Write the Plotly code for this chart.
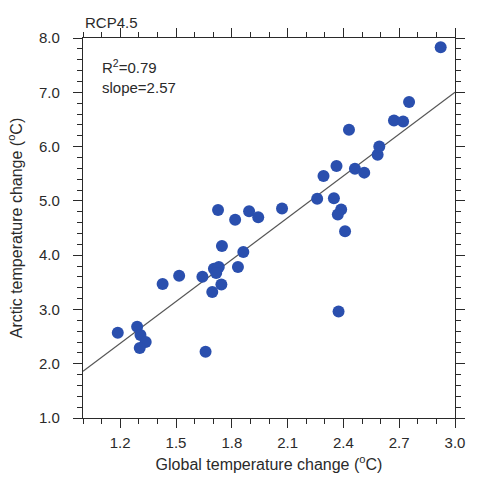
import plotly.graph_objects as go
import numpy as np

# Data (global vs arctic warming, RCP4.5 models)
global_change = [1.187, 1.291, 1.309, 1.337, 1.305, 1.428, 1.517, 1.642, 1.659, 1.695,
                 1.704, 1.730, 1.716, 1.744, 1.747, 1.726, 1.818, 1.833, 1.862, 1.893,
                 1.942, 2.070, 2.259, 2.293, 2.349, 2.363, 2.388, 2.370, 2.409, 2.374,
                 2.430, 2.462, 2.512, 2.584, 2.593, 2.672, 2.721, 2.753, 2.923]
arctic_change = [2.57, 2.68, 2.53, 2.40, 2.29, 3.47, 3.62, 3.60, 2.22, 3.32,
                 3.75, 3.78, 3.67, 3.46, 4.17, 4.83, 4.65, 3.78, 4.06, 4.81,
                 4.70, 4.86, 5.04, 5.46, 5.05, 5.64, 4.84, 4.75, 4.44, 2.96,
                 6.31, 5.59, 5.52, 5.85, 6.00, 6.48, 6.46, 6.82, 7.83]

fit_slope = 2.57
fit_intercept = -0.71
r_squared = 0.79
scenario = "RCP4.5"

x_ticks = [1.2, 1.5, 1.8, 2.1, 2.4, 2.7, 3.0]
y_ticks = [1.0, 2.0, 3.0, 4.0, 5.0, 6.0, 7.0, 8.0]

FONT = "Liberation Sans, Arial, Helvetica, sans-serif"
INK = "#2a2a2a"

line_x = np.array([1.0, 3.0])
line_y = fit_slope * line_x + fit_intercept

fig = go.Figure()
fig.add_trace(go.Scatter(x=line_x, y=line_y, mode="lines",
                         line=dict(color="#555555", width=1.2),
                         hoverinfo="skip", showlegend=False))
fig.add_trace(go.Scatter(x=global_change, y=arctic_change, mode="markers",
                         marker=dict(color="#2a4fae", size=12, line=dict(width=0)),
                         showlegend=False))

axis_common = dict(
    showline=True, linecolor=INK, linewidth=1.2, mirror="allticks",
    ticks="outside", ticklen=9, tickwidth=1, tickcolor=INK,
    showgrid=False, zeroline=False,
    tickfont=dict(family=FONT, size=15, color=INK),
)

fig.update_layout(
    width=477, height=484,
    margin=dict(l=83, r=14, t=38, b=66),
    paper_bgcolor="white", plot_bgcolor="white",
    font=dict(family=FONT, color=INK),
    xaxis=dict(range=[1.0, 3.0], tickvals=x_ticks, tickformat=".1f",
               minor=dict(dtick=0.1, tick0=1.0, ticks="outside", ticklen=5,
                          tickcolor=INK, showgrid=False),
               title=dict(text="Global temperature change (<sup>o</sup>C)",
                          font=dict(family=FONT, size=16), standoff=8),
               ticklabelstandoff=2,
               **axis_common),
    yaxis=dict(range=[1.0, 8.0], tickvals=y_ticks, tickformat=".1f",
               minor=dict(dtick=0.2, tick0=1.0, ticks="outside", ticklen=5,
                          tickcolor=INK, showgrid=False),
               title=dict(text="Arctic temperature change (<sup>o</sup>C)",
                          font=dict(family=FONT, size=16), standoff=12),
               ticklabelstandoff=10,
               **axis_common),
)

fig.add_annotation(x=0, y=1, xref="paper", yref="paper", xanchor="left", yanchor="bottom",
                   text=scenario, showarrow=False, yshift=5,
                   font=dict(family=FONT, size=15, color=INK))
fig.add_annotation(x=0.045, y=0.955, xref="paper", yref="paper", xanchor="left", yanchor="top",
                   text=f"R<sup>2</sup>={r_squared:.2f}<br>slope={fit_slope:.2f}",
                   align="left", showarrow=False,
                   font=dict(family=FONT, size=15, color=INK))

fig.write_html("out.html")
